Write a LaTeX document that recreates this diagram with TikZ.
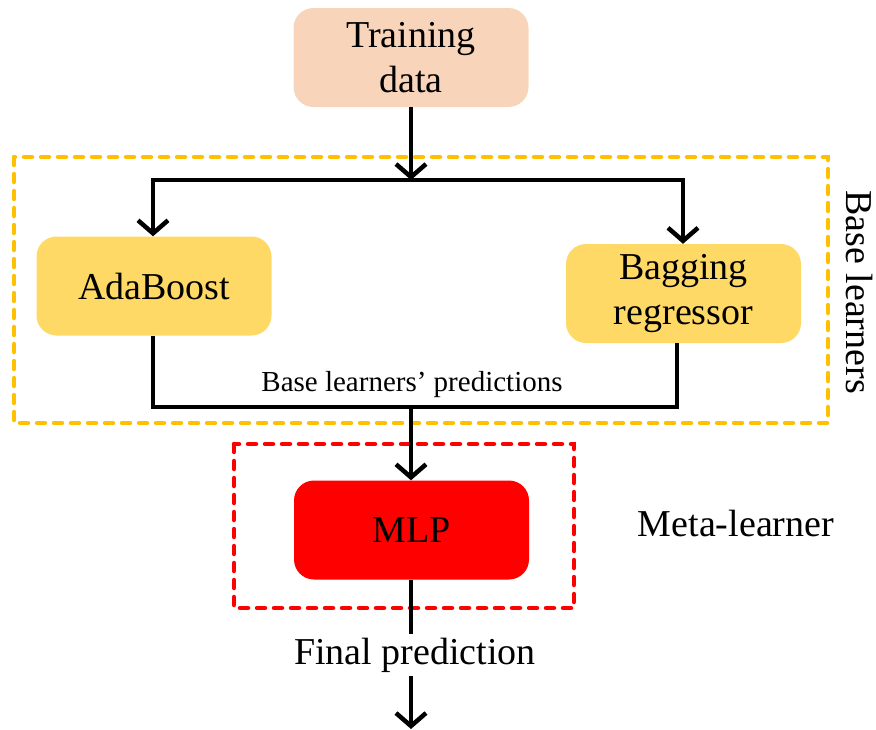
\documentclass[tikz,border=0pt]{standalone}
\usepackage{fontspec}
\setmainfont{Liberation Serif}
\usetikzlibrary{arrows.meta}
\definecolor{peach}{HTML}{F8D5BA}
\definecolor{gold}{HTML}{FFD966}
\definecolor{goldline}{HTML}{FFC000}
\definecolor{redfill}{HTML}{FF0000}
\begin{document}
\begin{tikzpicture}[x=1pt,y=-1pt,
  box/.style={rounded corners=20pt, minimum width=235pt, minimum height=99pt, align=center, font=\fontsize{38}{45}\selectfont, inner sep=0pt},
  conn/.style={line width=4.5pt, draw=black},
  arr/.style={conn, -{Straight Barb[length=13pt, width=30pt, line width=4.5pt]}},
  frame/.style={line width=4.5pt, dash pattern=on 8pt off 9pt, line cap=round},
  lbl/.style={font=\fontsize{38}{40}\selectfont}]
\useasboundingbox (0,0) rectangle (876,729);
% frames
\draw[frame, draw=goldline] (14,157) rectangle (828,423);
\draw[frame, draw=redfill] (234,444) rectangle (574,608);
% boxes
\node[box, fill=peach] (train) at (411,57.5) {Training\\data};
\node[box, fill=gold] (ada) at (154,286) {AdaBoost};
\node[box, fill=gold] (bag) at (683.5,293.5) {Bagging\\regressor};
\node[box, fill=redfill] (mlp) at (411.5,530) {MLP};
% junctions
\coordinate (split) at (411,180);
\coordinate (sl) at (153,180);
\coordinate (sr) at (683,180);
\coordinate (ml) at (153,407);
\coordinate (mm) at (411,407);
\coordinate (mr) at (677,407);
\coordinate (end) at (411,729);
% connectors
\draw[arr] (train.south -| split) -- (split);
\draw[conn, line cap=rect] (sl) -- (sr);
\draw[arr] (sl) -- (ada.north -| sl);
\draw[arr] (sr) -- (bag.north -| sr);
\draw[conn, line join=miter] (ada.south -| ml) -- (ml) -- (mr) -- (bag.south -| mr);
\draw[arr] (mm) -- (mlp.north -| mm);
\node[font=\fontsize{29}{30}\selectfont] (pred) at (412,385) {Base learners’ predictions};
\node[lbl] (final) at (415,655) {Final prediction};
\draw[conn] (mlp.south -| mm) -- (final.north -| mm);
\draw[arr] (final.south -| mm) -- (end);
\node[lbl] (meta) at (736,523) {Meta-learner};
\node[lbl, rotate=-90, inner sep=0pt] (base) at (859,292) {Base learners};
\end{tikzpicture}
\end{document}
